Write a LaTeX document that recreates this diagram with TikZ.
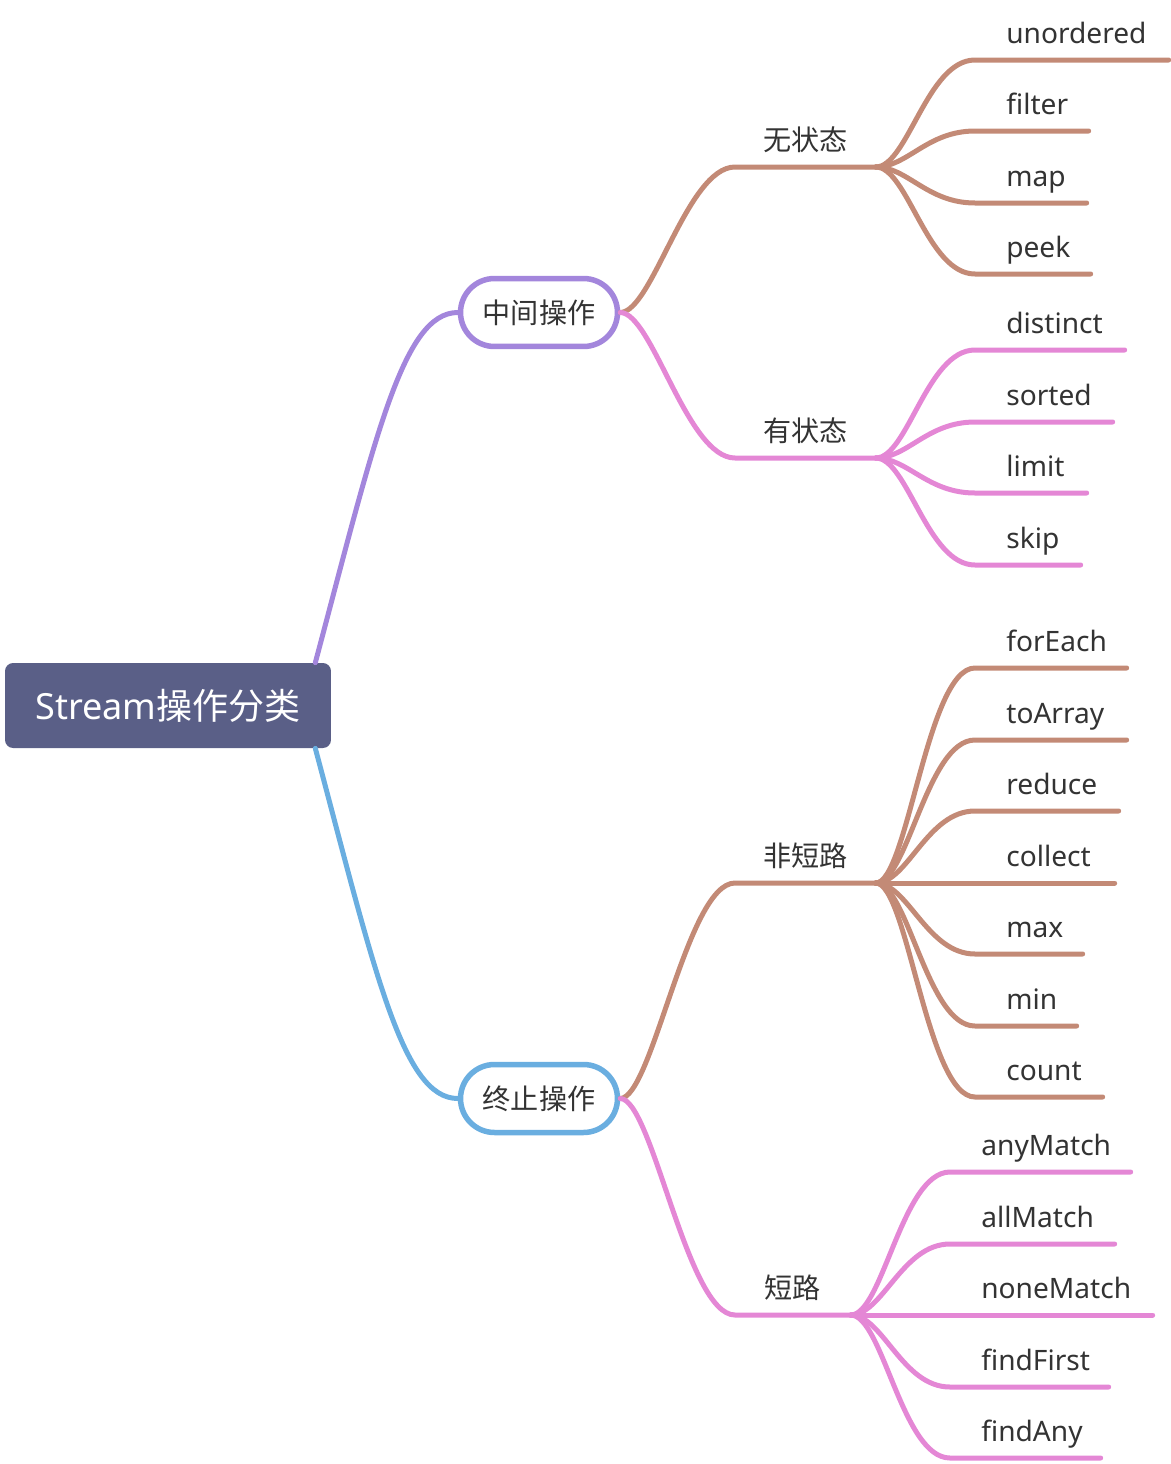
\documentclass[tikz,border=0pt]{standalone}
\usepackage{fontspec}
\setmainfont{Noto Sans}
\newfontfamily\cjk{Noto Sans CJK SC}
\usetikzlibrary{calc}
\definecolor{smRoot}{HTML}{5A5F87}
\definecolor{smPurple}{HTML}{A386DC}
\definecolor{smBlue}{HTML}{6AAEE0}
\definecolor{smBrown}{HTML}{C38A76}
\definecolor{smPink}{HTML}{E487D5}
\definecolor{smText}{HTML}{333333}
\tikzset{
  smroot/.style={fill=smRoot, rounded corners=0.16cm, minimum width=6.52cm, minimum height=1.7cm,
                 text=white, font=\fontsize{20.5}{24}\selectfont},
  smpill/.style={draw=#1, line width=0.11cm, fill=white, rounded corners=0.68cm, minimum width=3.14cm,
                 minimum height=1.36cm, text=smText, font=\fontsize{16}{19}\selectfont\cjk},
  smmid/.style={anchor=south west, text width=#1, align=center, inner xsep=0pt, inner ysep=0.32cm,
                text depth=0pt, text=smText, font=\fontsize{16}{19}\selectfont\cjk},
  smleaf/.style={anchor=south west, text width=#1, align=left, inner xsep=0pt, inner ysep=0.32cm,
                 text depth=0pt, text=smText, font=\fontsize{16}{19}\selectfont,
                 execute at begin node=\hspace*{0.62cm}},
  smline/.style={draw=#1, line width=0.1cm, line cap=round},
  smfork/.style={to path={.. controls +(32,0) and +(-48,0) .. (\tikztotarget.south west) -- (\tikztotarget.south east)}},
}

\begin{document}
\begin{tikzpicture}[x=0.02cm, y=-0.02cm]
\useasboundingbox (0,0) rectangle (1170,1464);
% root and the two kinds of operation
\node[smroot] (root) at (168,705.5) {Stream{\cjk 操作分类}};
\node[smpill=smPurple] (inter) at (539,312.5) {中间操作};
\node[smpill=smBlue] (term) at (539,1098.5) {终止操作};
% second level
\node[smmid=2.8cm] (nostate) at (735,167) {无状态};
\node[smmid=2.8cm] (state) at (735,458) {有状态};
\node[smmid=2.8cm] (nonshort) at (735,883) {非短路};
\node[smmid=2.3cm] (short) at (735,1315) {短路};
% leaves
\node[smleaf=3.86cm] (unordered) at (975,60) {unordered};
\node[smleaf=2.26cm] (filter) at (975,131) {filter};
\node[smleaf=2.22cm] (map) at (975,203) {map};
\node[smleaf=2.30cm] (peek) at (975,274) {peek};
\node[smleaf=2.98cm] (distinct) at (975,350) {distinct};
\node[smleaf=2.74cm] (sorted) at (975,422) {sorted};
\node[smleaf=2.22cm] (limit) at (975,493) {limit};
\node[smleaf=2.10cm] (skip) at (975,565) {skip};
\node[smleaf=3.02cm] (forEach) at (975,668) {forEach};
\node[smleaf=3.02cm] (toArray) at (975,740) {toArray};
\node[smleaf=2.86cm] (reduce) at (975,811) {reduce};
\node[smleaf=2.78cm] (collect) at (975,883) {collect};
\node[smleaf=2.14cm] (max) at (975,954) {max};
\node[smleaf=2.02cm] (min) at (975,1026) {min};
\node[smleaf=2.54cm] (count) at (975,1097) {count};
\node[smleaf=3.60cm] (anyMatch) at (950,1172) {anyMatch};
\node[smleaf=3.28cm] (allMatch) at (950,1244) {allMatch};
\node[smleaf=4.04cm] (noneMatch) at (950,1315) {noneMatch};
\node[smleaf=3.16cm] (findFirst) at (950,1387) {findFirst};
\node[smleaf=3.00cm] (findAny) at (950,1458) {findAny};

\draw[smline=smPurple] ([xshift=-0.32cm]root.north east) .. controls +(60,-225) and +(-55,0) .. (inter.west);
\draw[smline=smBlue] ([xshift=-0.32cm]root.south east) .. controls +(60,225) and +(-55,0) .. (term.west);
\draw[smline=smBrown] (inter.east) to[smfork] (nostate);
\draw[smline=smPink] (inter.east) to[smfork] (state);
\draw[smline=smBrown] (term.east) to[smfork] (nonshort);
\draw[smline=smPink] (term.east) to[smfork] (short);
\draw[smline=smBrown] (nostate.south east) edge[smfork] (unordered) edge[smfork] (filter)
  edge[smfork] (map) edge[smfork] (peek);
\draw[smline=smPink] (state.south east) edge[smfork] (distinct) edge[smfork] (sorted)
  edge[smfork] (limit) edge[smfork] (skip);
\draw[smline=smBrown] (nonshort.south east) edge[smfork] (forEach) edge[smfork] (toArray)
  edge[smfork] (reduce) edge[smfork] (collect) edge[smfork] (max) edge[smfork] (min) edge[smfork] (count);
\draw[smline=smPink] (short.south east) edge[smfork] (anyMatch) edge[smfork] (allMatch)
  edge[smfork] (noneMatch) edge[smfork] (findFirst) edge[smfork] (findAny);
\end{tikzpicture}
\end{document}
